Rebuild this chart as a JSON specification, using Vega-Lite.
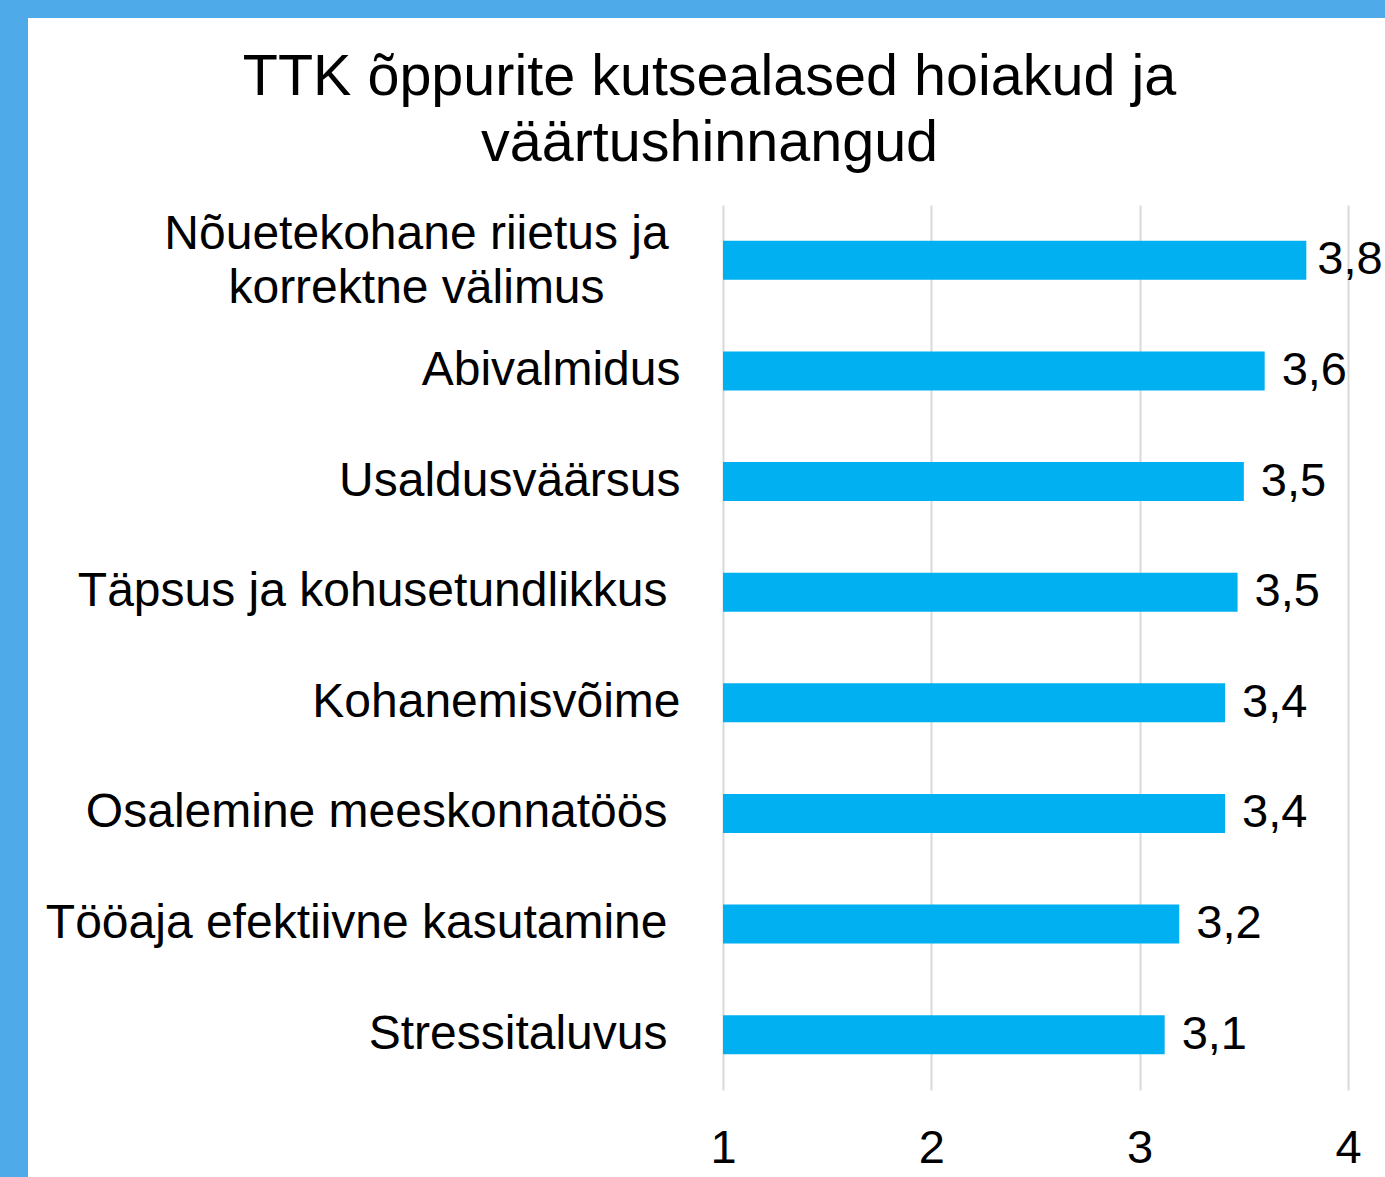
{
  "$schema": "https://vega.github.io/schema/vega-lite/v6.json",
  "width": 1357,
  "height": 1159,
  "autosize": {"type": "none"},
  "padding": {"left": 28, "top": 18, "right": 0, "bottom": 0},
  "background": "#4EAAE8",
  "config": {
    "view": {"fill": "white", "stroke": null},
    "font": "Liberation Sans",
    "locale": {"number": {"decimal": ",", "thousands": "\u00a0", "grouping": [3], "currency": ["", " €"]}}
  },
  "title": {
    "text": ["TTK õppurite kutsealased hoiakud ja", "väärtushinnangud"],
    "font": "Liberation Sans",
    "fontSize": 57.5,
    "fontWeight": "normal",
    "color": "#000000",
    "anchor": "middle",
    "baseline": "alphabetic",
    "lineHeight": 66,
    "offset": -200,
    "dx": 3
  },
  "data": {
    "values": [
      {"hoiak": "Nõuetekohane riietus ja korrektne välimus", "v": 3.8},
      {"hoiak": "Abivalmidus", "v": 3.6},
      {"hoiak": "Usaldusväärsus", "v": 3.5},
      {"hoiak": "Täpsus ja kohusetundlikkus", "v": 3.47},
      {"hoiak": "Kohanemisvõime", "v": 3.41},
      {"hoiak": "Osalemine meeskonnatöös", "v": 3.41},
      {"hoiak": "Tööaja efektiivne kasutamine", "v": 3.19},
      {"hoiak": "Stressitaluvus", "v": 3.12}
    ]
  },
  "encoding": {
    "y": {
      "field": "hoiak",
      "type": "nominal",
      "sort": null,
      "scale": {"range": [187, 1072], "paddingInner": 0, "paddingOuter": 0},
      "axis": {
        "title": null,
        "orient": "left",
        "offset": -652,
        "domain": false,
        "ticks": false,
        "tickSize": 0,
        "labelFont": "Liberation Sans",
        "labelFontSize": 48,
        "labelColor": "#000000",
        "labelLimit": 800,
        "labelLineHeight": 54,
        "labelExpr": "datum.value == 'Nõuetekohane riietus ja korrektne välimus' ? ['Nõuetekohane riietus ja', 'korrektne välimus'] : datum.label",
        "labelAlign": {"condition": {"test": "datum.value == 'Nõuetekohane riietus ja korrektne välimus'", "value": "center"}, "value": "right"},
        "labelOffset": {"condition": {"test": "datum.value == 'Nõuetekohane riietus ja korrektne välimus'", "value": -25}, "value": 0},
        "labelPadding": {"condition": [
          {"test": "datum.value == 'Nõuetekohane riietus ja korrektne välimus'", "value": 264},
          {"test": "indexof(['Täpsus ja kohusetundlikkus', 'Osalemine meeskonnatöös', 'Tööaja efektiivne kasutamine', 'Stressitaluvus'], datum.value) >= 0", "value": 13}
        ], "value": 0}
      }
    }
  },
  "layer": [
    {
      "mark": {"type": "bar", "color": "#00B0F0", "size": 39},
      "encoding": {
        "x": {
          "field": "v",
          "type": "quantitative",
          "scale": {"domain": [1, 4], "range": [695, 1320], "nice": false, "zero": false},
          "axis": {
            "title": null,
            "orient": "top",
            "values": [1, 2, 3, 4],
            "labels": false,
            "domain": false,
            "ticks": false,
            "grid": true,
            "gridColor": "#D9D9D9",
            "gridWidth": 2
          }
        },
        "x2": {"datum": 1}
      }
    },
    {
      "transform": [{"filter": "datum.v < 3.75"}],
      "mark": {"type": "text", "align": "left", "baseline": "middle", "dx": 17, "font": "Liberation Sans", "fontSize": 47, "color": "#000000"},
      "encoding": {
        "x": {
          "field": "v",
          "type": "quantitative",
          "axis": {
            "title": null,
            "orient": "bottom",
            "values": [1, 2, 3, 4],
            "format": "d",
            "offset": -52,
            "domain": false,
            "ticks": false,
            "tickSize": 0,
            "labelPadding": 0,
            "labelFlush": false,
            "labelFont": "Liberation Sans",
            "labelFontSize": 47,
            "labelColor": "#000000",
            "grid": false
          }
        },
        "text": {"field": "v", "type": "quantitative", "format": ".1f"}
      }
    },
    {
      "transform": [{"filter": "datum.v >= 3.75"}],
      "mark": {"type": "text", "align": "left", "baseline": "middle", "dx": 11, "font": "Liberation Sans", "fontSize": 47, "color": "#000000"},
      "encoding": {
        "x": {"field": "v", "type": "quantitative", "axis": null},
        "text": {"field": "v", "type": "quantitative", "format": ".1f"}
      }
    }
  ],
  "resolve": {"axis": {"x": "independent"}}
}
